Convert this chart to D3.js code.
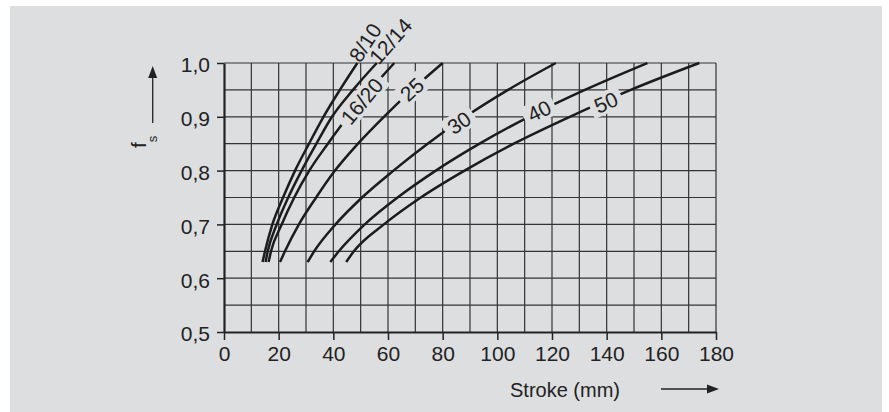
<!DOCTYPE html>
<html>
<head>
<meta charset="utf-8">
<style>
  body { margin: 0; background: #fff; }
  text { font-family: "Liberation Sans", Arial, sans-serif; }
</style>
</head>
<body>
<svg id="chart" width="889" height="412"></svg>
<script src="https://cdn.jsdelivr.net/npm/d3@7"></script>
<script>
const fLevels = [0.63, 0.65, 0.70, 0.75, 0.80, 0.85, 0.90, 0.95, 1.00];

// stroke (mm) of each curve at those levels
const s8_10  = [14.1, 15.0, 17.7, 21.6, 26.0, 31.1, 36.4, 42.4, 48.8];
const s12_14 = [15.2, 16.0, 19.3, 23.5, 28.4, 33.8, 39.5, 47.2, 55.9];
const s16_20 = [16.3, 17.2, 21.1, 25.7, 31.2, 38.0, 45.3, 53.5, 62.3];
const s25    = [20.5, 22.3, 27.4, 33.7, 40.6, 49.0, 58.5, 68.8, 80.0];
const s30    = [30.6, 33.0, 40.8, 50.5, 62.0, 74.5, 88.3, 103.9, 121.4];
const s40    = [38.9, 42.0, 51.5, 63.5, 77.5, 93.5, 111.5, 132.0, 154.9];
const s50    = [44.7, 47.5, 58.5, 72.0, 88.0, 106.0, 126.5, 148.8, 173.9];

const curveNames  = ["8/10", "12/14", "16/20", "25", "30", "40", "50"];
const curveValues = [s8_10, s12_14, s16_20, s25, s30, s40, s50];

// where each curve name sits (stroke, f_s)
const labelStroke = [51.6, 60.9, 50.4, 68.7, 86.0, 115.3, 139.7];
const labelF      = [1.038, 1.041, 0.929, 0.951, 0.889, 0.911, 0.927];

const xTicks = [0, 20, 40, 60, 80, 100, 120, 140, 160, 180];
const yTicks = [0.5, 0.6, 0.7, 0.8, 0.9, 1.0];

const svg = d3.select("#chart");
const ink = "#222";
const paper = "#dddee0";

svg.append("rect")
    .attr("x", 10).attr("y", 6)
    .attr("width", 872).attr("height", 406)
    .attr("fill", paper);

const x = d3.scaleLinear().domain([0, 180]).range([224, 716]);
const y = d3.scaleLinear().domain([0.5, 1.0]).range([332, 63]);

// grid
const grid = svg.append("g").attr("stroke", "#333").attr("stroke-width", 1.2);
grid.selectAll("line.v")
    .data(d3.range(10, 181, 10))
    .join("line").attr("class", "v")
        .attr("x1", d => x(d)).attr("x2", d => x(d))
        .attr("y1", y(0.5)).attr("y2", y(1.0));
grid.selectAll("line.h")
    .data(d3.range(11, 21).map(i => i * 0.05))
    .join("line").attr("class", "h")
        .attr("y1", d => y(d)).attr("y2", d => y(d))
        .attr("x1", x(0)).attr("x2", x(180));

// curves
const line = d3.line()
    .x(d => x(d[0]))
    .y(d => y(d[1]))
    .curve(d3.curveMonotoneX);

svg.append("g")
    .attr("fill", "none")
    .attr("stroke", "#1c1c1c")
    .attr("stroke-width", 2.5)
    .selectAll("path")
    .data(curveValues)
    .join("path")
        .attr("d", vals => line(vals.map((v, i) => [v, fLevels[i]])));

function strokeAt(vals, f) {
    f = Math.max(fLevels[0], Math.min(1, f));
    const i = Math.max(0, Math.min(fLevels.length - 2, d3.bisectRight(fLevels, f) - 1));
    const t = (f - fLevels[i]) / (fLevels[i + 1] - fLevels[i]);
    return vals[i] + t * (vals[i + 1] - vals[i]);
}

// curve names, rotated along the curve, knocking out what is underneath
const labelSize = 21;
curveNames.forEach((name, k) => {
    const vals = curveValues[k];
    const f2 = Math.min(labelF[k] + 0.025, 1), f1 = f2 - 0.05;
    const ang = Math.atan2(y(f2) - y(f1), x(strokeAt(vals, f2)) - x(strokeAt(vals, f1))) * 180 / Math.PI;
    const g = svg.append("g")
        .attr("transform", `translate(${x(labelStroke[k])},${y(labelF[k])}) rotate(${ang})`);
    const bg = g.append("rect");
    const t = g.append("text")
        .attr("text-anchor", "middle")
        .attr("dy", "0.36em")
        .attr("font-size", labelSize)
        .attr("fill", ink)
        .text(name);
    const w = t.node().getComputedTextLength();
    if (labelF[k] < 1) {
        bg.attr("x", -w / 2 - 5).attr("y", -11)
          .attr("width", w + 10).attr("height", 22)
          .attr("fill", paper);
    } else {
        bg.remove();
    }
});

// axes
const comma = d3.formatLocale({decimal: ",", thousands: ".", grouping: [3], currency: ["", ""]}).format(".1f");

const xAxis = svg.append("g")
    .attr("transform", `translate(0,${y(0.5)})`)
    .call(d3.axisBottom(x).tickValues(xTicks).tickSize(8).tickPadding(6).tickSizeOuter(0));
const yAxis = svg.append("g")
    .attr("transform", `translate(${x(0)},0)`)
    .call(d3.axisLeft(y).tickValues(yTicks).tickSize(7).tickPadding(7).tickSizeOuter(0).tickFormat(comma));

[xAxis, yAxis].forEach(a => {
    a.attr("color", ink).attr("font-size", 21).attr("font-family", null);
    a.select(".domain").attr("stroke-width", 2.2);
    a.selectAll(".tick line").attr("stroke-width", 1.5);
});
yAxis.selectAll(".tick text").attr("dy", "0.42em");

// axis titles with arrows
svg.append("text")
    .attr("x", 565).attr("y", 397)
    .attr("text-anchor", "middle")
    .attr("font-size", 20)
    .attr("fill", ink)
    .text("Stroke (mm)");
svg.append("line")
    .attr("x1", 661).attr("x2", 709).attr("y1", 389).attr("y2", 389)
    .attr("stroke", ink).attr("stroke-width", 1.3);
svg.append("path")
    .attr("d", d3.line()([[707, 384.5], [719, 389], [707, 393.5]]) + "Z")
    .attr("fill", ink);

const fs = svg.append("text")
    .attr("transform", "translate(146,148) rotate(-90)")
    .attr("font-size", 21)
    .attr("fill", ink);
fs.append("tspan").text("f");
fs.append("tspan").attr("dy", 11).attr("font-size", 13).text("s");
svg.append("line")
    .attr("x1", 152.7).attr("x2", 152.7).attr("y1", 123).attr("y2", 76)
    .attr("stroke", ink).attr("stroke-width", 1.3);
svg.append("path")
    .attr("d", d3.line()([[148.2, 78], [152.7, 66], [157.2, 78]]) + "Z")
    .attr("fill", ink);
</script>
</body>
</html>
